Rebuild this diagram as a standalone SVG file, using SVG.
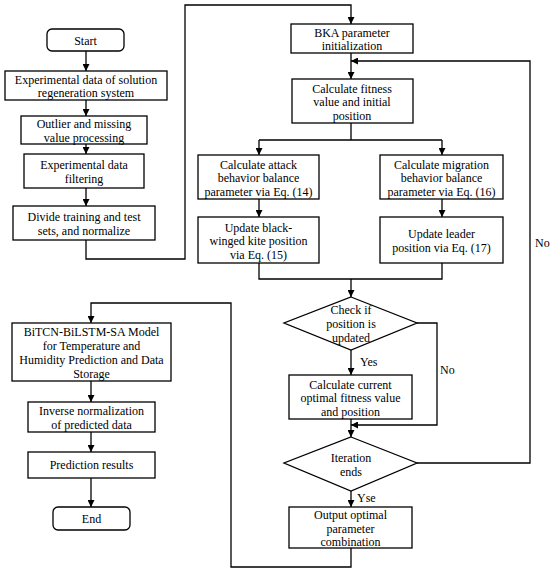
<svg xmlns="http://www.w3.org/2000/svg" width="550" height="573" viewBox="0 0 550 573">
<defs>
<marker id="arr" viewBox="0 0 10 10" refX="10" refY="5" markerWidth="7" markerHeight="7" markerUnits="userSpaceOnUse" orient="auto">
<path d="M0,0 L10,5 L0,10 Z" fill="#000"/>
</marker>
<style>
.b{fill:#fff;stroke:#000;stroke-width:1.3}
.t{font-family:"Liberation Serif","Times New Roman",serif;font-size:12px;fill:#000;text-anchor:middle}
.l{font-family:"Liberation Serif","Times New Roman",serif;font-size:12px;fill:#000}
.c{fill:none;stroke:#000;stroke-width:1.3}
.a{marker-end:url(#arr)}
</style>
</defs>
<rect width="550" height="573" fill="#fff"/>
<g id="connectors">
<path class="c a" d="M86,51 V71"/>
<path class="c a" d="M86,100 V116"/>
<path class="c a" d="M86,144 V154"/>
<path class="c a" d="M86,188 V206"/>
<path class="c a" d="M86,240 V259 H185 V5 H351 V24"/>
<path class="c a" d="M351,53 V79"/>
<path class="c a" d="M417,463 H530 V61 H351"/>
<path class="c" d="M351,123 V140 M259,140 H442"/>
<path class="c a" d="M259,140 V155"/>
<path class="c a" d="M442,140 V155"/>
<path class="c a" d="M259,199 V217"/>
<path class="c a" d="M442,199 V217"/>
<path class="c" d="M259,263 V279 H442 V263"/>
<path class="c a" d="M351,279 V297"/>
<path class="c a" d="M351,350 V375"/>
<path class="c a" d="M417,323 H437 V425 H351"/>
<path class="c a" d="M351,419 V437"/>
<path class="c a" d="M351,491 V507"/>
<path class="c a" d="M351,548 V567 H231 V303 H91 V323"/>
<path class="c a" d="M91,381 V402"/>
<path class="c a" d="M91,432 V452"/>
<path class="c a" d="M91,478 V507"/>
<text class="l" x="535" y="247">No</text>
<text class="l" x="440" y="374">No</text>
<text class="l" x="360" y="366">Yes</text>
<text class="l" x="357" y="502">Yse</text>
</g>
<g id="start"><rect class="b" x="47" y="29" width="77" height="22" rx="5"/><text class="t" x="85.5" y="44.5">Start</text></g>
<g id="expdata"><rect class="b" x="5" y="71" width="162" height="29"/><text class="t" x="86" y="83.5">Experimental data of solution</text><text class="t" x="86" y="97">regeneration system</text></g>
<g id="outlier"><rect class="b" x="21" y="116" width="126" height="28"/><text class="t" x="84" y="128">Outlier and missing</text><text class="t" x="84" y="141.5">value processing</text></g>
<g id="filter"><rect class="b" x="24" y="154" width="120" height="34"/><text class="t" x="84" y="169">Experimental data</text><text class="t" x="84" y="183">filtering</text></g>
<g id="divide"><rect class="b" x="13" y="206" width="142" height="34"/><text class="t" x="84" y="221">Divide training and test</text><text class="t" x="84" y="235">sets, and normalize</text></g>
<g id="bka"><rect class="b" x="291" y="24" width="122" height="29"/><text class="t" x="352" y="36.5">BKA parameter</text><text class="t" x="352" y="50">initialization</text></g>
<g id="fitness"><rect class="b" x="292" y="79" width="121" height="44"/><text class="t" x="352" y="92.5">Calculate fitness</text><text class="t" x="352" y="106">value and initial</text><text class="t" x="352" y="119.5">position</text></g>
<g id="attack"><rect class="b" x="198" y="155" width="121" height="44"/><text class="t" x="258.5" y="168.5">Calculate attack</text><text class="t" x="258.5" y="182">behavior balance</text><text class="t" x="258.5" y="195.5">parameter via Eq. (14)</text></g>
<g id="migration"><rect class="b" x="380" y="155" width="123" height="44"/><text class="t" x="441.5" y="168.5">Calculate migration</text><text class="t" x="441.5" y="182">behavior balance</text><text class="t" x="441.5" y="195.5">parameter via Eq. (16)</text></g>
<g id="updatebw"><rect class="b" x="198" y="217" width="121" height="46"/><text class="t" x="258.5" y="231.5">Update black-</text><text class="t" x="258.5" y="245">winged kite position</text><text class="t" x="258.5" y="258.5">via Eq. (15)</text></g>
<g id="updateleader"><rect class="b" x="380" y="217" width="123" height="46"/><text class="t" x="441.5" y="238">Update leader</text><text class="t" x="441.5" y="252">position via Eq. (17)</text></g>
<g id="check"><polygon class="b" points="351,297 417,323 351,350 284,323"/><text class="t" x="351" y="314">Check if</text><text class="t" x="351" y="328">position is</text><text class="t" x="351" y="342">updated</text></g>
<g id="current"><rect class="b" x="289" y="375" width="123" height="44"/><text class="t" x="350.5" y="388.5">Calculate current</text><text class="t" x="350.5" y="402">optimal fitness value</text><text class="t" x="350.5" y="415.5">and position</text></g>
<g id="iteration"><polygon class="b" points="351,437 417,463 351,491 284,463"/><text class="t" x="351" y="462">Iteration</text><text class="t" x="351" y="476">ends</text></g>
<g id="output"><rect class="b" x="289" y="507" width="123" height="41"/><text class="t" x="350.5" y="519">Output optimal</text><text class="t" x="350.5" y="532.5">parameter</text><text class="t" x="350.5" y="546">combination</text></g>
<g id="model"><rect class="b" x="12" y="323" width="159" height="58"/><text class="t" x="91.5" y="336">BiTCN-BiLSTM-SA Model</text><text class="t" x="91.5" y="350">for Temperature and</text><text class="t" x="91.5" y="364">Humidity Prediction and Data</text><text class="t" x="91.5" y="378">Storage</text></g>
<g id="inverse"><rect class="b" x="28" y="402" width="127" height="30"/><text class="t" x="91.5" y="415">Inverse normalization</text><text class="t" x="91.5" y="429">of predicted data</text></g>
<g id="prediction"><rect class="b" x="28" y="452" width="127" height="26"/><text class="t" x="91.5" y="469">Prediction results</text></g>
<g id="end"><rect class="b" x="53" y="507" width="77" height="23" rx="5"/><text class="t" x="91.5" y="522.5">End</text></g>
</svg>
